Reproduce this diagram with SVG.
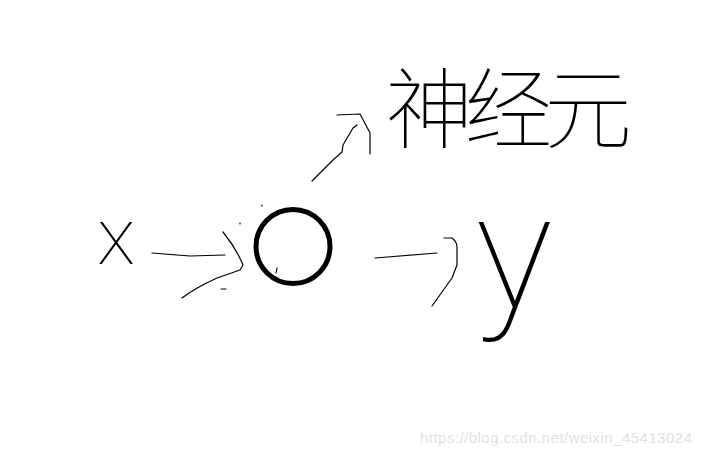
<svg xmlns="http://www.w3.org/2000/svg" width="702" height="456" viewBox="0 0 702 456">
<style>
.s{fill:none;stroke:#000;stroke-width:1.2;stroke-linecap:round;stroke-linejoin:round}
.t{font-family:Roboto,"Liberation Sans",sans-serif;font-weight:100;fill:#000}
.c{font-family:"Noto Sans CJK SC","Noto Sans CJK JP",sans-serif;font-weight:100;fill:#000}
</style>
<rect width="702" height="456" fill="#fff"/>
<g id="node-x"><text class="t" x="116" y="264" font-size="80" text-anchor="middle">x</text></g>
<g id="node-neuron"><circle cx="293" cy="246.5" r="37" fill="none" stroke="#000" stroke-width="5"/><path class="s" d="M277,268 L276,273"/></g>
<g id="label-neuron"><text class="c" x="385" y="141" font-size="88" textLength="247" lengthAdjust="spacing">神经元</text></g>
<g id="node-y"><text class="t" x="514" y="308" font-size="162" text-anchor="middle">y</text></g>
<g id="connectors">
<path class="s" d="M152,253 L190,256 L225,255"/>
<path class="s" d="M223,232 Q236,248 243,265 L240,270 L217,278 Q195,288 182,298"/>
<path class="s" d="M262,205 L262,206 M240,223 L240,224 M221,289 L226,289"/>
<path class="s" d="M375,258 L437,253"/>
<path class="s" d="M444,238 L452,238 Q457,242 457,247 L457,265 L452,278 L432,306"/>
<path class="s" d="M312,181 L333,160 L342,152 L343,145 L353,128 L357,125"/>
<path class="s" d="M337,115 L360,114 L370,133 L370,154"/>
</g>
<text x="420" y="443" font-family="Liberation Sans, sans-serif" font-size="15" textLength="272" fill="#e2e2e2">https://blog.csdn.net/weixin_45413024</text>
</svg>
